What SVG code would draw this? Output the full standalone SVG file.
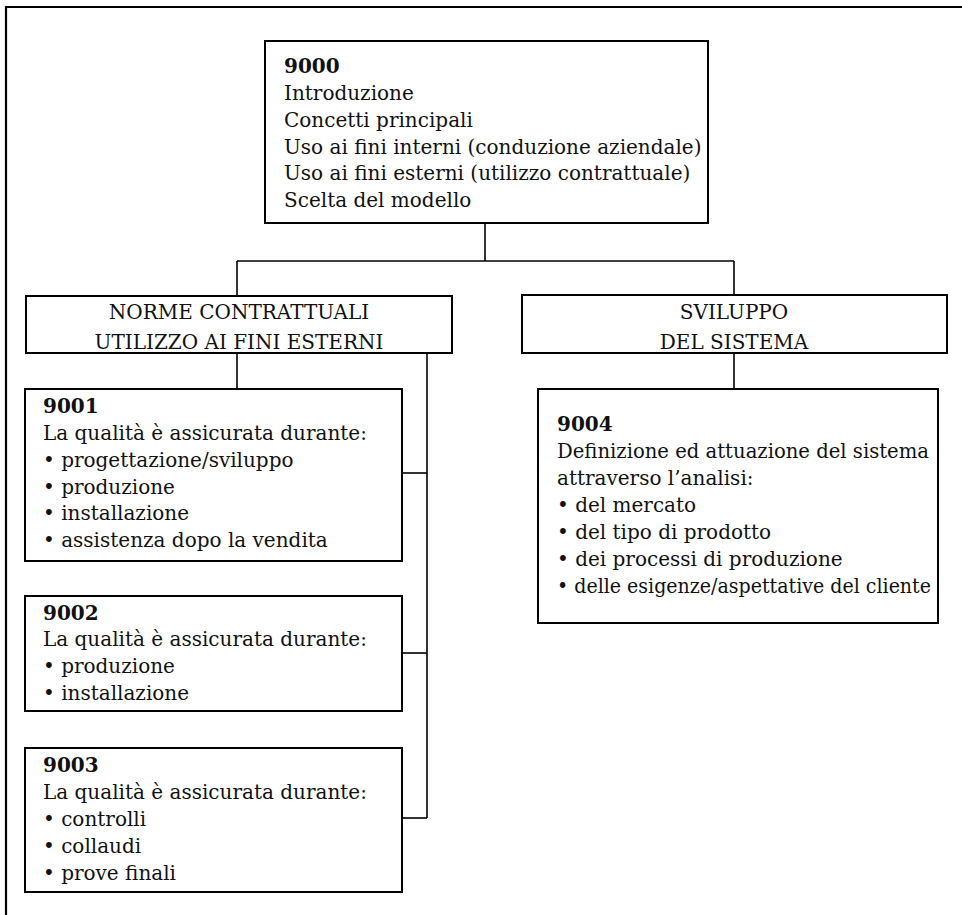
<svg xmlns="http://www.w3.org/2000/svg" width="962" height="915" viewBox="0 0 962 915">
<style>
  .box { fill: #ffffff; stroke: #000000; stroke-width: 2; }
  .frame { fill: none; stroke: #000000; stroke-width: 2.2; }
  .conn { fill: none; stroke: #000000; stroke-width: 1.6; }
  text { font-family: "DejaVu Serif", "Liberation Serif", serif; font-size: 20px; fill: #111111; }
  .b { font-weight: bold; }
  .c { text-anchor: middle; }
</style>
<rect x="0" y="0" width="962" height="915" fill="#ffffff"/>
<path class="frame" d="M6,915 V7 H962"/>
<g id="connectors">
  <path class="conn" d="M485,223 V261"/>
  <path class="conn" d="M237,261 H734"/>
  <path class="conn" d="M237,261 V296"/>
  <path class="conn" d="M734,261 V295"/>
  <path class="conn" d="M237,353 V389"/>
  <path class="conn" d="M427,353 V818"/>
  <path class="conn" d="M402,473 H427"/>
  <path class="conn" d="M402,653 H427"/>
  <path class="conn" d="M402,818 H427"/>
  <path class="conn" d="M734,353 V389"/>
</g>
<g id="n9000">
  <rect class="box" x="265" y="41" width="443" height="182"/>
  <text class="b" x="284" y="73">9000</text>
  <text x="284" y="100">Introduzione</text>
  <text x="284" y="127">Concetti principali</text>
  <text x="284" y="154">Uso ai fini interni (conduzione aziendale)</text>
  <text x="284" y="180">Uso ai fini esterni (utilizzo contrattuale)</text>
  <text x="284" y="207">Scelta del modello</text>
</g>
<g id="norme">
  <rect class="box" x="26" y="296" width="426" height="57"/>
  <text class="c" x="239" y="319">NORME CONTRATTUALI</text>
  <text class="c" x="239" y="349">UTILIZZO AI FINI ESTERNI</text>
</g>
<g id="sviluppo">
  <rect class="box" x="522" y="295" width="425" height="58"/>
  <text class="c" x="734" y="319">SVILUPPO</text>
  <text class="c" x="734" y="349">DEL SISTEMA</text>
</g>
<g id="n9001">
  <rect class="box" x="25" y="389" width="377" height="172"/>
  <text class="b" x="43" y="413">9001</text>
  <text x="43" y="440">La qualità è assicurata durante:</text>
  <text x="43" y="467">• progettazione/sviluppo</text>
  <text x="43" y="494">• produzione</text>
  <text x="43" y="520">• installazione</text>
  <text x="43" y="547">• assistenza dopo la vendita</text>
</g>
<g id="n9002">
  <rect class="box" x="25" y="596" width="377" height="115"/>
  <text class="b" x="43" y="620">9002</text>
  <text x="43" y="646">La qualità è assicurata durante:</text>
  <text x="43" y="673">• produzione</text>
  <text x="43" y="700">• installazione</text>
</g>
<g id="n9003">
  <rect class="box" x="25" y="748" width="377" height="144"/>
  <text class="b" x="43" y="772">9003</text>
  <text x="43" y="799">La qualità è assicurata durante:</text>
  <text x="43" y="826">• controlli</text>
  <text x="43" y="853">• collaudi</text>
  <text x="43" y="880">• prove finali</text>
</g>
<g id="n9004">
  <rect class="box" x="538" y="389" width="400" height="234"/>
  <text class="b" x="557" y="431">9004</text>
  <text x="557" y="458" textLength="372" lengthAdjust="spacingAndGlyphs">Definizione ed attuazione del sistema</text>
  <text x="557" y="485">attraverso l’analisi:</text>
  <text x="557" y="512">• del mercato</text>
  <text x="557" y="539">• del tipo di prodotto</text>
  <text x="557" y="566">• dei processi di produzione</text>
  <text x="557" y="593" textLength="374" lengthAdjust="spacingAndGlyphs">• delle esigenze/aspettative del cliente</text>
</g>
</svg>
